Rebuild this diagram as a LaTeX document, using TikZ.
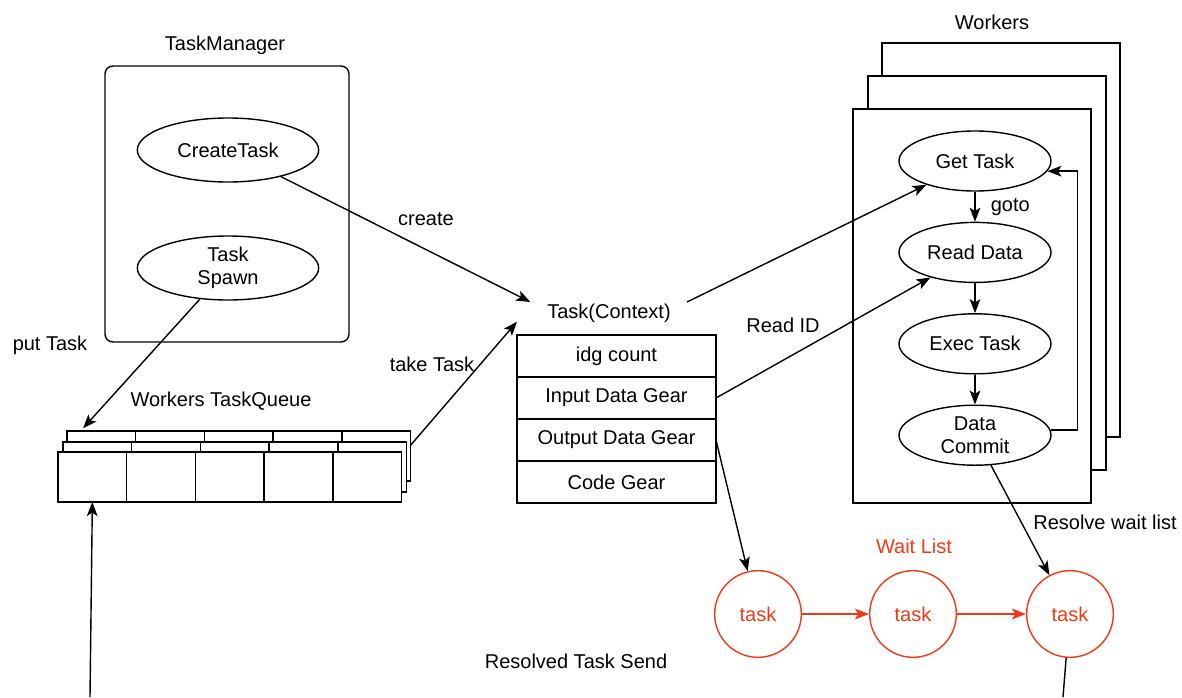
\documentclass[tikz,border=0pt]{standalone}
\usepackage{fontspec}
\setmainfont{Liberation Sans}
\usepackage{tikz}
\usetikzlibrary{positioning,arrows.meta,shapes.geometric}
\definecolor{waitred}{RGB}{242,56,22}

\begin{document}
\begin{tikzpicture}[x=0.75pt, y=-0.75pt, >={Stealth[length=10.5pt,width=8pt,inset=2.5pt]}, line width=1.05pt, auto, font=\fontsize{15}{17.5}\selectfont]
\tikzstyle{proc}=[ellipse, draw, fill=white, minimum width=114pt, minimum height=45pt, align=center, inner sep=1pt]
\tikzstyle{field}=[rectangle, draw, minimum width=149.25pt, minimum height=31.5pt, outer sep=0pt]
\tikzstyle{qrow}=[rectangle, draw, fill=white, minimum width=257.6pt, minimum height=37.5pt, outer sep=0pt]
\tikzstyle{cell}=[rectangle, draw, minimum width=51.5pt, minimum height=37.5pt, outer sep=0pt]
\tikzstyle{panel}=[rectangle, draw, fill=white, minimum width=178.5pt, minimum height=295.5pt]
\tikzstyle{waiting}=[circle, draw=waitred, text=waitred, minimum size=65pt]
\useasboundingbox (0,0) rectangle (1182,697);

% task manager
\node (tmlabel) at (225,45) {TaskManager};
\node[rectangle, rounded corners=6pt, draw, minimum width=183pt, minimum height=207pt] (tm) at (227,204) {};
\node[proc, minimum width=136pt, minimum height=48pt] (ct) at (228,150) {CreateTask};
\node[proc, minimum width=136pt, minimum height=48pt] (ts) at (228,268) {Task\\Spawn};

% workers task queue
\node (qlabel) at (221,401) {Workers TaskQueue};
\foreach \dx/\dy/\r in {9/-21/c, 5/-10/b, 0/0/a} {
  \node[qrow] (row\r) at ({230+\dx}, {477+\dy}) {};
  \foreach \i in {1,...,5}
    \node[cell] (q\r\i) at ({92.35+68.7*(\i-1)+\dx}, {477+\dy}) {};
}

% task context
\node (tctx) at (609,313) {Task(Context)};
\node[field] (f1) at (616.5,356) {idg count};
\node[field, below=0pt of f1] (f2) {Input Data Gear};
\node[field, below=0pt of f2] (f3) {Output Data Gear};
\node[field, below=0pt of f3] (f4) {Code Gear};

% workers
\node (wlabel) at (992,22) {Workers};
\node[panel] (w3) at (1001,240) {};
\node[panel] (w2) at (987,273) {};
\node[panel] (w1) at (972,306) {};
\node[proc] (gt) at (975,161) {Get Task};
\node[proc, below=22.5pt of gt] (rd) {Read Data};
\node[proc, below=22.5pt of rd] (ex) {Exec Task};
\node[proc, below=22.5pt of ex] (dc) {Data\\Commit};

% wait list
\node[text=waitred] (wl) at (914,546) {Wait List};
\node[waiting] (c1) at (758,614) {task};
\node[waiting] (c2) at (913,614) {task};
\node[waiting] (c3) at (1070,614) {task};
\coordinate (sendout) at (1063,697);
\coordinate (sendin) at (90,697);

\draw[->] (ct) -- ([xshift=10pt,yshift=24.75pt]f1.north west);
\node at (426,219) {create};
\draw[->] (ts) -- ([xshift=12pt,yshift=2pt]qc1.north west);
\node at (50,345) {put Task};
\draw[->] ([yshift=8pt]qc5.east) -- ([yshift=10pt]f1.north west);
\node at (432,364) {take Task};
\draw[->] ([xshift=-21.75pt,yshift=24.75pt]f1.north east) -- (gt);
\draw[->] (f2.east) -- (rd);
\node at (783,325) {Read ID};
\draw[->] (f3.east) -- (c1);
\path[->] (gt) edge node[xshift=8pt] {goto} (rd);
\draw[->] (rd) -- (ex);
\draw[->] (ex) -- (dc);
\draw[->] (dc.4) -- ++(27,0) |- (gt.-8);
\draw[->] (dc) -- (c3);
\node at (1105,522) {Resolve wait list};
\draw[->, waitred] (c1) -- (c2);
\draw[->, waitred] (c2) -- (c3);
\draw (c3.265) -- (sendout);
\draw[->] (sendin) -- (qa1.south);
\node at (576,661) {Resolved Task Send};
\end{tikzpicture}
\end{document}
